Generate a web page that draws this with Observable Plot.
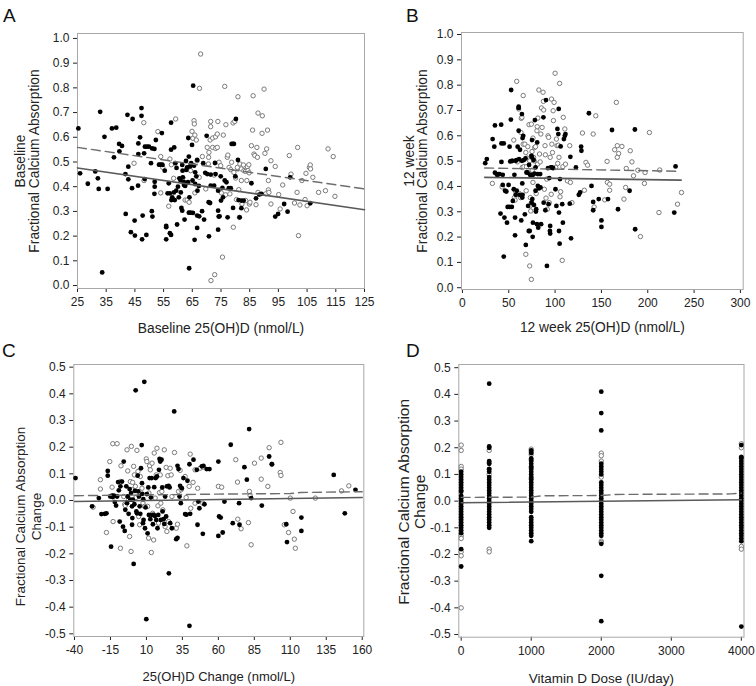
<!DOCTYPE html>
<html>
<head>
<meta charset="utf-8">
<script src="https://cdn.jsdelivr.net/npm/d3@7"></script>
<script src="https://cdn.jsdelivr.net/npm/@observablehq/plot@0.6"></script>
<style>
  html, body { margin: 0; padding: 0; background: #fff; }
  #root { position: relative; width: 756px; height: 686px; font-family: "Liberation Sans", Arial, sans-serif; }
  .panel { position: absolute; }
  .letter { position: absolute; font-size: 19px; color: #111; line-height: 1; }
</style>
</head>
<body>
<div id="root"></div>
<script>
// ---------- Panel A: Baseline 25(OH)D vs baseline FCA ----------
const aFilled = [[25.3,0.636],[25.9,0.454],[28.6,0.412],[31.2,0.462],[32.1,0.434],[32.4,0.391],[32.9,0.703],[33.6,0.053],[34.4,0.602],[35.5,0.391],[37.0,0.636],[37.7,0.519],[38.5,0.639],[39.5,0.573],[39.6,0.543],[40.5,0.565],[41.7,0.451],[41.8,0.290],[42.4,0.691],[42.7,0.481],[42.7,0.430],[43.6,0.216],[44.0,0.394],[44.2,0.674],[44.9,0.263],[45.0,0.202],[46.1,0.404],[46.2,0.575],[46.2,0.532],[46.8,0.600],[47.3,0.718],[47.3,0.687],[47.5,0.187],[47.7,0.283],[48.2,0.535],[48.4,0.431],[48.5,0.562],[49.0,0.205],[49.2,0.562],[49.9,0.562],[50.6,0.495],[50.9,0.301],[51.1,0.279],[51.0,0.555],[51.9,0.420],[51.8,0.371],[51.9,0.400],[52.3,0.589],[51.8,0.553],[53.4,0.489],[53.8,0.489],[54.4,0.489],[54.4,0.617],[54.6,0.488],[55.4,0.465],[55.9,0.241],[55.9,0.236],[55.9,0.187],[56.4,0.373],[56.8,0.414],[57.2,0.373],[57.2,0.212],[57.6,0.659],[57.6,0.550],[57.6,0.205],[57.7,0.346],[58.0,0.357],[58.3,0.348],[58.6,0.377],[58.7,0.559],[58.9,0.346],[59.1,0.495],[59.4,0.384],[59.5,0.476],[59.7,0.247],[60.0,0.400],[60.3,0.357],[60.5,0.434],[60.9,0.425],[61.0,0.377],[61.2,0.314],[61.5,0.488],[61.5,0.303],[61.6,0.465],[61.7,0.438],[62.1,0.418],[62.1,0.407],[62.3,0.267],[62.5,0.403],[62.8,0.504],[62.8,0.414],[62.9,0.468],[63.2,0.478],[63.5,0.418],[63.6,0.597],[63.8,0.522],[63.8,0.295],[63.9,0.070],[64.0,0.357],[64.2,0.482],[64.4,0.295],[64.6,0.495],[64.9,0.569],[65.1,0.425],[65.2,0.294],[65.3,0.809],[65.6,0.485],[65.8,0.185],[66.0,0.411],[66.0,0.458],[66.4,0.442],[66.7,0.283],[66.7,0.233],[66.8,0.384],[66.7,0.508],[67.3,0.403],[67.4,0.280],[68.4,0.301],[69.1,0.267],[68.8,0.495],[69.5,0.456],[70.0,0.606],[70.2,0.451],[70.7,0.337],[70.8,0.199],[71.2,0.334],[71.4,0.449],[71.4,0.404],[72.6,0.404],[72.9,0.496],[73.1,0.451],[74.0,0.384],[74.0,0.303],[74.0,0.226],[74.2,0.279],[74.5,0.280],[74.9,0.442],[75.0,0.344],[75.5,0.395],[75.7,0.357],[76.3,0.425],[76.9,0.418],[77.3,0.276],[77.7,0.394],[78.4,0.394],[78.7,0.573],[79.2,0.573],[79.2,0.314],[79.5,0.573],[80.0,0.442],[80.2,0.674],[80.9,0.508],[81.1,0.346],[81.5,0.276],[82.1,0.344],[82.1,0.313],[82.9,0.344],[85.6,0.414],[87.2,0.353],[88.3,0.368],[89.1,0.371],[90.6,0.472],[93.9,0.279],[94.9,0.290],[97.0,0.330],[98.2,0.299],[99.1,0.438],[106.1,0.333]];
const aOpen = [[44.7,0.495],[48.1,0.659],[48.2,0.425],[53.0,0.623],[54.0,0.522],[54.0,0.375],[54.7,0.478],[56.8,0.321],[57.2,0.512],[57.7,0.489],[58.5,0.434],[59.2,0.674],[61.7,0.435],[62.5,0.346],[63.2,0.346],[63.9,0.337],[64.4,0.465],[64.9,0.624],[65.2,0.596],[65.6,0.667],[65.7,0.654],[65.9,0.609],[66.4,0.589],[66.7,0.505],[65.9,0.375],[67.4,0.438],[67.5,0.798],[67.9,0.937],[68.5,0.522],[69.7,0.391],[70.2,0.559],[70.6,0.492],[70.7,0.519],[70.8,0.539],[71.2,0.589],[71.4,0.664],[71.4,0.643],[71.5,0.020],[72.1,0.597],[72.1,0.559],[72.6,0.447],[72.8,0.044],[73.1,0.602],[73.1,0.555],[73.7,0.613],[73.7,0.559],[73.9,0.664],[74.3,0.499],[74.4,0.387],[74.9,0.485],[75.1,0.375],[75.5,0.115],[75.8,0.609],[76.3,0.806],[76.6,0.367],[76.7,0.651],[77.2,0.519],[77.4,0.528],[77.8,0.478],[78.1,0.371],[78.4,0.469],[78.7,0.499],[79.2,0.658],[79.3,0.236],[79.5,0.458],[79.8,0.664],[80.1,0.435],[80.4,0.348],[80.7,0.478],[80.9,0.764],[81.2,0.388],[81.4,0.276],[81.6,0.492],[82.1,0.472],[82.1,0.425],[82.3,0.330],[82.8,0.488],[83.0,0.465],[83.5,0.462],[83.6,0.344],[83.9,0.306],[84.0,0.425],[84.2,0.481],[84.4,0.465],[84.7,0.489],[84.8,0.456],[84.9,0.330],[85.1,0.337],[85.6,0.566],[86.0,0.629],[86.2,0.768],[86.5,0.532],[86.8,0.526],[87.2,0.327],[87.5,0.559],[87.7,0.519],[87.9,0.698],[87.9,0.377],[89.4,0.687],[89.3,0.616],[90.0,0.795],[90.3,0.535],[90.6,0.371],[90.9,0.553],[91.2,0.629],[91.5,0.425],[91.5,0.387],[91.7,0.377],[92.4,0.330],[92.4,0.505],[93.9,0.482],[95.1,0.368],[95.6,0.310],[96.5,0.407],[98.8,0.526],[99.4,0.451],[100.6,0.334],[101.5,0.377],[101.7,0.559],[102.0,0.202],[102.5,0.326],[103.2,0.425],[104.3,0.348],[104.6,0.454],[105.0,0.323],[105.8,0.478],[106.1,0.488],[106.2,0.472],[107.0,0.438],[109.0,0.377],[111.4,0.384],[112.3,0.553],[114.1,0.522],[114.7,0.361]];
const aSolid = [[25,0.476],[125,0.307]];
const aDashed = [[25,0.559],[125,0.391]];
const aXTicks = [25,35,45,55,65,75,85,95,105,115,125];

// ---------- Panel B: 12 week 25(OH)D vs 12 week FCA ----------
const bFilled = [[24.6,0.492],[26.3,0.508],[32.6,0.587],[34.4,0.557],[35.1,0.641],[35.1,0.454],[37.5,0.445],[38.6,0.449],[40.0,0.449],[41.8,0.644],[41.1,0.293],[42.1,0.497],[42.1,0.570],[43.5,0.446],[43.5,0.406],[44.6,0.570],[44.6,0.123],[45.3,0.277],[46.0,0.383],[47.4,0.380],[48.1,0.257],[48.8,0.319],[49.8,0.406],[50.9,0.319],[50.9,0.557],[51.6,0.499],[52.3,0.664],[52.6,0.781],[53.3,0.319],[54.0,0.501],[54.4,0.343],[55.4,0.389],[56.1,0.446],[56.8,0.207],[56.8,0.277],[57.5,0.367],[57.5,0.501],[58.2,0.504],[58.6,0.383],[59.6,0.557],[60.7,0.715],[60.7,0.620],[60.7,0.710],[61.1,0.508],[61.8,0.367],[62.1,0.545],[63.5,0.266],[64.2,0.501],[64.2,0.686],[64.6,0.356],[64.6,0.412],[64.9,0.367],[64.9,0.591],[65.6,0.600],[66.3,0.504],[67.4,0.290],[68.1,0.511],[68.4,0.169],[69.1,0.455],[70.2,0.455],[70.9,0.323],[71.6,0.224],[71.9,0.485],[72.6,0.224],[73.0,0.446],[74.0,0.446],[74.4,0.521],[74.7,0.336],[75.1,0.583],[75.1,0.515],[75.4,0.350],[75.8,0.201],[76.1,0.446],[76.1,0.257],[76.8,0.504],[77.2,0.327],[77.9,0.451],[78.2,0.662],[78.9,0.383],[78.9,0.475],[79.3,0.301],[79.6,0.310],[80.4,0.251],[80.7,0.574],[81.4,0.449],[81.4,0.402],[81.8,0.237],[82.5,0.392],[83.9,0.449],[84.2,0.396],[84.9,0.251],[87.4,0.673],[87.7,0.336],[89.5,0.306],[90.2,0.741],[91.2,0.086],[92.3,0.472],[93.0,0.330],[93.7,0.433],[94.4,0.224],[94.7,0.244],[94.7,0.214],[95.4,0.475],[96.5,0.475],[97.9,0.472],[100.4,0.389],[101.4,0.323],[102.5,0.627],[103.5,0.607],[103.9,0.706],[104.2,0.297],[104.2,0.224],[104.9,0.174],[105.3,0.429],[106.0,0.558],[107.7,0.330],[108.4,0.257],[109.5,0.587],[110.5,0.600],[111.2,0.607],[116.5,0.517],[115.8,0.332],[117.2,0.195],[122.5,0.475],[125.6,0.367],[127.0,0.376],[128.1,0.557],[128.4,0.541],[136.5,0.689],[139.3,0.402],[141.1,0.339],[141.1,0.306],[147.1,0.350],[150.0,0.266],[150.0,0.240],[157.1,0.350],[161.4,0.623],[167.9,0.310],[180.4,0.383],[186.1,0.625],[186.4,0.231],[228.6,0.297],[230.0,0.479]];
const bOpen = [[32.3,0.412],[42.8,0.398],[53.3,0.501],[55.4,0.583],[56.1,0.356],[56.8,0.346],[57.5,0.380],[58.2,0.369],[58.6,0.815],[59.3,0.497],[60.7,0.706],[61.4,0.372],[62.8,0.356],[63.2,0.613],[63.5,0.669],[64.2,0.673],[64.6,0.475],[65.6,0.759],[65.6,0.567],[66.3,0.478],[67.4,0.567],[68.4,0.534],[68.4,0.132],[68.8,0.383],[69.1,0.478],[69.8,0.512],[70.5,0.557],[71.9,0.644],[72.6,0.086],[72.6,0.501],[73.0,0.323],[73.3,0.356],[73.7,0.303],[74.4,0.033],[74.4,0.646],[74.4,0.336],[75.1,0.538],[75.4,0.464],[76.1,0.591],[76.1,0.416],[76.8,0.515],[77.5,0.501],[77.9,0.554],[78.9,0.557],[79.6,0.372],[80.4,0.620],[80.7,0.636],[81.1,0.488],[81.4,0.670],[82.5,0.781],[83.2,0.528],[83.9,0.497],[84.6,0.607],[85.3,0.710],[86.0,0.633],[87.0,0.772],[87.4,0.736],[87.7,0.702],[88.4,0.389],[89.1,0.561],[89.5,0.525],[90.2,0.354],[90.9,0.429],[91.6,0.310],[92.3,0.600],[93.0,0.594],[93.7,0.336],[94.7,0.515],[95.8,0.369],[96.1,0.745],[96.5,0.567],[97.2,0.534],[97.9,0.699],[98.2,0.660],[98.9,0.732],[100.0,0.847],[100.7,0.475],[101.4,0.587],[102.1,0.561],[102.8,0.491],[103.5,0.563],[104.2,0.515],[104.9,0.807],[105.3,0.359],[106.0,0.379],[107.7,0.108],[108.4,0.478],[108.8,0.673],[110.5,0.627],[111.2,0.488],[113.3,0.422],[115.8,0.561],[116.5,0.416],[118.2,0.336],[129.5,0.611],[131.6,0.385],[133.3,0.495],[135.1,0.484],[141.1,0.607],[142.1,0.319],[143.9,0.679],[153.6,0.347],[156.1,0.499],[156.4,0.416],[158.9,0.409],[158.9,0.385],[164.3,0.545],[166.1,0.732],[167.1,0.561],[168.6,0.530],[167.1,0.515],[172.1,0.558],[174.3,0.350],[176.1,0.396],[176.8,0.471],[181.1,0.541],[182.9,0.497],[184.6,0.442],[189.3,0.464],[192.1,0.202],[196.4,0.412],[197.1,0.455],[201.8,0.613],[212.1,0.297],[212.9,0.465],[232.1,0.330],[236.4,0.376]];
const bSolid = [[24,0.436],[236,0.425]];
const bDashed = [[24,0.473],[234,0.460]];
const bXTicks = [0,50,100,150,200,250,300];

// ---------- Panel C: 25(OH)D change vs FCA change ----------
const cFilled = [[-39.3,0.084],[-27.8,-0.022],[-23.1,0.009],[-21.3,-0.051],[-19.0,-0.050],[-17.8,-0.048],[-16.9,0.111],[-16.9,0.093],[-14.6,-0.173],[-15.1,0.015],[-13.9,0.018],[-13.4,0.013],[-12.7,0.018],[-12.0,-0.006],[-11.1,-0.019],[-10.4,0.015],[-9.7,0.069],[-9.2,0.038],[-8.6,-0.079],[-8.1,0.053],[-7.0,0.071],[-6.3,-0.098],[-5.8,0.146],[-5.1,-0.114],[-4.7,-0.035],[-4.0,0.053],[-3.5,-0.010],[-3.0,0.015],[-2.4,-0.050],[-1.7,0.043],[-1.2,0.003],[-0.7,0.028],[0.0,-0.022],[0.0,-0.091],[0.2,-0.066],[0.6,0.003],[1.1,-0.238],[1.6,-0.014],[2.0,0.036],[2.5,0.413],[3.0,-0.041],[3.4,-0.048],[3.9,0.093],[4.3,0.034],[4.8,0.015],[5.3,-0.022],[5.7,-0.050],[6.2,0.121],[6.7,0.208],[6.9,0.065],[7.1,0.025],[7.6,-0.085],[7.8,0.005],[8.0,-0.073],[8.5,0.445],[9.0,-0.104],[9.4,-0.026],[9.9,-0.445],[10.3,0.024],[10.8,-0.123],[11.3,0.049],[11.7,-0.054],[12.2,0.084],[12.7,-0.070],[13.1,0.011],[13.6,0.084],[14.0,-0.054],[14.5,-0.089],[15.0,-0.054],[15.4,0.050],[15.9,-0.058],[16.4,0.084],[16.8,-0.073],[17.3,0.090],[17.7,-0.104],[18.2,-0.054],[18.7,0.115],[19.1,0.156],[19.6,0.146],[20.0,-0.073],[20.5,0.153],[21.0,0.049],[21.2,-0.041],[21.9,-0.070],[22.4,-0.088],[23.0,0.015],[23.7,-0.060],[24.2,0.053],[25.4,0.055],[25.6,-0.273],[26.1,0.049],[26.5,-0.085],[27.7,-0.104],[29.3,0.334],[30.7,-0.145],[31.6,-0.140],[31.6,0.130],[32.3,0.118],[33.0,0.015],[33.4,0.055],[33.9,-0.010],[34.6,0.046],[35.7,0.084],[36.9,-0.051],[37.8,-0.053],[38.5,0.074],[39.9,0.136],[39.9,-0.470],[40.4,-0.050],[42.7,0.153],[45.0,0.115],[46.1,-0.004],[46.8,-0.029],[48.5,0.128],[49.6,0.130],[50.3,-0.014],[51.9,0.118],[53.8,0.118],[45.5,-0.091],[49.2,-0.125],[60.0,0.146],[60.5,-0.060],[60.0,-0.133],[61.6,-0.064],[63.0,-0.120],[64.2,-0.004],[68.6,0.209],[70.0,-0.085],[74.4,-0.010],[74.7,-0.091],[78.1,0.125],[79.8,0.078],[81.4,0.268],[82.8,0.009],[90.2,-0.019],[95.3,0.165],[97.2,0.136],[107.2,-0.089],[107.7,-0.156],[117.7,-0.064],[117.7,-0.114],[140.2,0.096],[147.9,-0.048],[155.3,0.040]];
const cOpen = [[-27.1,-0.025],[-22.0,0.043],[-22.0,0.078],[-17.8,-0.120],[-15.5,0.146],[-13.2,-0.079],[-13.4,0.213],[-10.4,0.213],[-13.9,0.050],[-8.1,-0.179],[-8.1,0.071],[-7.7,0.130],[-5.8,0.015],[-5.1,-0.014],[-4.7,-0.019],[-3.5,0.190],[-3.0,0.111],[-2.4,0.003],[-1.7,-0.135],[-1.2,0.071],[-0.7,-0.191],[-0.5,0.203],[0.0,0.040],[0.4,0.068],[1.1,0.128],[1.6,0.096],[2.3,0.053],[2.7,0.011],[3.4,0.188],[4.1,0.109],[4.6,-0.060],[5.3,-0.091],[5.7,0.090],[6.9,0.046],[7.6,-0.010],[8.7,-0.022],[9.9,0.156],[10.3,0.146],[10.8,-0.022],[11.5,-0.141],[11.7,0.028],[12.2,0.130],[12.7,0.115],[13.4,-0.195],[13.9,0.140],[14.3,-0.048],[15.0,-0.148],[15.4,0.178],[16.1,0.009],[16.8,0.096],[17.3,0.196],[18.0,-0.020],[18.4,-0.085],[19.1,0.030],[19.6,0.096],[20.0,-0.010],[20.7,0.034],[21.4,-0.035],[22.4,0.190],[23.0,-0.098],[23.7,0.124],[24.2,-0.116],[24.9,0.093],[25.4,-0.079],[26.5,0.121],[27.2,0.096],[27.7,0.015],[29.5,0.180],[30.7,-0.104],[31.6,-0.089],[32.3,0.034],[33.4,0.113],[34.1,0.040],[36.9,0.090],[37.6,0.011],[38.1,-0.170],[39.7,0.053],[40.4,0.174],[40.8,-0.029],[42.4,0.068],[43.8,-0.010],[45.6,0.046],[47.3,0.121],[49.6,0.125],[43.8,0.115],[49.2,-0.010],[60.0,0.053],[62.3,0.050],[72.1,0.153],[73.3,0.069],[73.5,-0.070],[75.8,-0.106],[80.9,-0.083],[81.6,0.034],[82.1,0.019],[82.8,-0.166],[85.1,0.140],[89.8,0.159],[89.8,0.080],[94.4,0.053],[95.3,0.198],[97.2,0.136],[103.0,0.105],[103.5,0.094],[103.5,0.218],[105.8,-0.091],[108.8,-0.120],[110.0,0.009],[111.9,-0.041],[112.8,-0.145],[113.5,-0.179],[127.4,0.009],[145.6,0.036],[150.7,0.055]];
const cSolid = [[-40,-0.004],[160,0.011]];
const cDashed = [[-40,0.018],[60,0.024],[110,0.026],[117,0.030],[160,0.033]];
const cXTicks = [-40,-15,10,35,60,85,110,135,160];

// ---------- Panel D: vitamin D dose vs FCA change ----------
const dDoses = [0,400,1000,2000,4000];
const dFilledY = [
  [0.11,0.10,0.09,0.08,0.07,0.06,0.05,0.04,0.035,0.02,0.01,0.0,-0.01,-0.02,-0.03,-0.04,-0.05,-0.06,-0.07,-0.08,-0.09,-0.10,-0.11,-0.12,-0.18,-0.245],
  [0.44,0.205,0.20,0.15,0.14,0.12,0.11,0.09,0.08,0.07,0.06,0.05,0.04,0.03,0.02,0.01,0.0,-0.01,-0.02,-0.03,-0.04,-0.05,-0.06,-0.07,-0.08,-0.09,-0.10],
  [0.19,0.18,0.16,0.15,0.14,0.13,0.12,0.11,0.10,0.09,0.08,0.07,0.06,0.05,0.04,0.03,0.02,0.01,0.0,-0.01,-0.02,-0.03,-0.04,-0.06,-0.07,-0.08,-0.09,-0.10,-0.11,-0.12,-0.13,-0.15],
  [0.41,0.33,0.265,0.14,0.13,0.12,0.11,0.10,0.07,0.06,0.05,0.04,0.03,0.02,0.01,0.0,-0.01,-0.02,-0.03,-0.04,-0.05,-0.06,-0.07,-0.08,-0.09,-0.10,-0.11,-0.12,-0.13,-0.16,-0.28,-0.45],
  [0.21,0.165,0.16,0.15,0.14,0.13,0.12,0.11,0.10,0.09,0.08,0.07,0.06,0.05,0.04,0.03,0.02,0.01,0.0,-0.01,-0.02,-0.03,-0.04,-0.05,-0.06,-0.07,-0.08,-0.09,-0.10,-0.11,-0.12,-0.13,-0.14,-0.15,-0.47]
];
const dOpenY = [
  [0.21,0.19,0.13,0.12,-0.13,-0.14,-0.19,-0.205,-0.40],
  [0.19,0.145,0.12,0.10,-0.18,-0.19],
  [0.195,0.185,0.175,0.155,0.125,0.085],
  [0.18,0.17,0.15,0.09,-0.15,-0.155],
  [0.215,0.20,0.165,-0.17,-0.18]
];
const dSolid = [[0,-0.006],[4000,0.005]];
const dDashed = [[0,0.014],[1000,0.015],[1150,0.020],[2000,0.021],[2200,0.025],[3850,0.027],[4000,0.03]];
const dXTicks = [0,1000,2000,3000,4000];

const fcaTicks = [0,0.1,0.2,0.3,0.4,0.5,0.6,0.7,0.8,0.9,1.0];
const changeTicks = [-0.5,-0.4,-0.3,-0.2,-0.1,0,0.1,0.2,0.3,0.4,0.5];

// ---------- drawing ----------
const FONT = '"Liberation Sans", Arial, sans-serif';
const root = document.getElementById("root");

function toPts(arr) { return arr.map(([x, y]) => ({x, y})); }

function panel(o) {
  const plot = Plot.plot({
    width: o.width, height: o.height,
    marginLeft: o.ml, marginRight: o.mr, marginTop: o.mt, marginBottom: o.mb,
    style: {fontFamily: FONT, fontSize: (o.tickFont || 12) + "px", color: "#222", background: "white", overflow: "visible"},
    x: {domain: o.xDomain, ticks: o.xTicks, tickFormat: d => String(d), tickSize: 4, tickPadding: 5, label: null},
    y: {domain: o.yDomain, ticks: o.yTicks, tickFormat: d => d.toFixed(1), tickSize: 4, tickPadding: 4, label: null},
    marks: [
      Plot.frame({stroke: "#a8a8a8", strokeWidth: 1}),
      Plot.dot(o.open, {x: "x", y: "y", r: 2.2, stroke: "#7a7a7a", strokeWidth: 1, fill: "white"}),
      Plot.dot(o.filled, {x: "x", y: "y", r: 2.4, fill: "#000", stroke: "none"}),
      Plot.line(toPts(o.dashed), {x: "x", y: "y", stroke: "#6e6e6e", strokeWidth: 1.4, strokeDasharray: "9,5"}),
      Plot.line(toPts(o.solid), {x: "x", y: "y", stroke: "#5a5a5a", strokeWidth: 1.6}),
      Plot.text([o.xLabel], {frameAnchor: "bottom", dy: o.xLabelDy, text: d => d, fontSize: o.xLabelSize || 13.5, fill: "#222", textAnchor: "middle", lineAnchor: "middle"}),
      Plot.text([o.yLabel], {frameAnchor: "left", dx: o.yLabelDx, dy: o.yLabelDy || 0, text: d => d, rotate: -90, fontSize: o.yLabelSize || 13.5, fill: "#222", textAnchor: "middle", lineAnchor: "middle", lineHeight: o.yLineHeight || 1.05})
    ]
  });
  const div = document.createElement("div");
  div.className = "panel";
  div.style.left = o.left + "px";
  div.style.top = o.top + "px";
  div.appendChild(plot);
  root.appendChild(div);
  const L = document.createElement("div");
  L.className = "letter";
  L.textContent = o.letter;
  L.style.left = o.letterX + "px";
  L.style.top = o.letterY + "px";
  root.appendChild(L);
}

panel({
  letter: "A", letterX: 3, letterY: 6,
  left: 0, top: 0, width: 378, height: 340, ml: 77, mr: 14, mt: 33, mb: 52,
  xDomain: [25, 125], yDomain: [-0.012, 1.02], xTicks: aXTicks, yTicks: fcaTicks,
  filled: toPts(aFilled), open: toPts(aOpen), solid: aSolid, dashed: aDashed,
  xLabel: "Baseline 25(OH)D (nmol/L)", xLabelDy: 40, xLabelSize: 13.8,
  yLabel: "Baseline\nFractional Calcium Absorption", yLabelDx: -50, yLabelSize: 13.8, yLineHeight: 1.02
});

panel({
  letter: "B", letterX: 406, letterY: 6,
  left: 378, top: 0, width: 378, height: 340, ml: 83, mr: 13.3, mt: 32, mb: 51,
  xDomain: [-1, 303], yDomain: [-0.007, 1.008], xTicks: bXTicks, yTicks: fcaTicks,
  filled: toPts(bFilled), open: toPts(bOpen), solid: bSolid, dashed: bDashed,
  xLabel: "12 week 25(OH)D (nmol/L)", xLabelDy: 38, xLabelSize: 13.8,
  yLabel: "12 week\nFractional Calcium Absorption", yLabelDx: -45, yLabelSize: 13.8, yLineHeight: 0.95
});

panel({
  letter: "C", letterX: 2, letterY: 341,
  left: 0, top: 340, width: 378, height: 346, ml: 73.3, mr: 14.7, mt: 24, mb: 50,
  xDomain: [-40.5, 161.1], yDomain: [-0.51, 0.51], xTicks: cXTicks, yTicks: changeTicks,
  filled: toPts(cFilled), open: toPts(cOpen), solid: cSolid, dashed: cDashed,
  xLabel: "25(OH)D Change (nmol/L)", xLabelDy: 40, xLabelSize: 13,
  yLabel: "Fractional Calcium Absorption\nChange", yLabelDx: -46, yLabelDy: 16, yLineHeight: 1.18
});

const dFilled = [], dOpen = [];
dDoses.forEach((dose, i) => {
  dFilledY[i].forEach(y => dFilled.push({x: dose, y}));
  dOpenY[i].forEach(y => dOpen.push({x: dose, y}));
});

panel({
  letter: "D", letterX: 406, letterY: 341,
  left: 378, top: 340, width: 378, height: 346, ml: 80.3, mr: 12.5, mt: 24, mb: 49.3,
  tickFont: 12,
  xDomain: [-34, 4038], yDomain: [-0.51, 0.512], xTicks: dXTicks, yTicks: changeTicks,
  filled: dFilled, open: dOpen, solid: dSolid, dashed: dDashed,
  xLabel: "Vitamin D Dose (IU/day)", xLabelDy: 41, xLabelSize: 13.5,
  yLabel: "Fractional Calcium Absorption\nChange", yLabelDx: -47, yLabelDy: 1, yLabelSize: 15.5, yLineHeight: 1.03
});
</script>
</body>
</html>
